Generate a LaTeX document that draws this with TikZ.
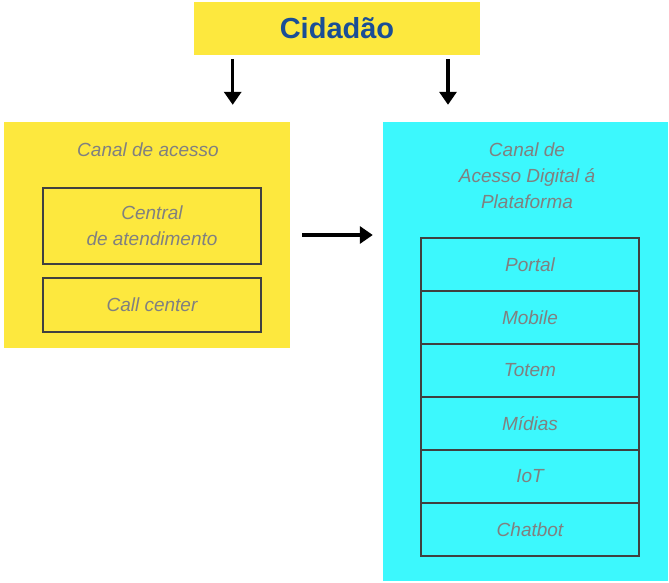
\documentclass[tikz,border=0pt]{standalone}
\usepackage{fontspec}
\setmainfont{Liberation Sans}
\usetikzlibrary{arrows.meta}
\definecolor{ylw}{RGB}{253,232,62}
\definecolor{cyn}{RGB}{60,248,253}
\definecolor{navy}{RGB}{26,78,150}
\definecolor{txt}{RGB}{128,128,128}
\tikzset{
  panel/.style={inner sep=0pt, draw=none},
  item/.style={draw=black!75, line width=1.6pt, inner sep=0pt, minimum width=218pt, text=txt, align=center,
     font=\itshape\fontsize{19}{26}\selectfont},
  cell/.style={item, minimum height=53pt},
  ttl/.style={text=txt, align=center, inner sep=0pt, font=\itshape\fontsize{19}{26}\selectfont},
  arr/.style={line width=3.2pt, -{Triangle[length=13pt,width=17pt]}}
}
\begin{document}
\begin{tikzpicture}[x=1pt,y=-1pt]
\useasboundingbox (0,0) rectangle (669,582);
\node[panel, fill=ylw, minimum width=286pt, minimum height=53pt, text=navy,
      font=\bfseries\fontsize{29}{30}\selectfont] (cid) at (337,28.5) {Cidadão};
\node[panel, fill=ylw, minimum width=286pt, minimum height=226pt] (canal) at (147,235) {};
\node[panel, fill=cyn, minimum width=285pt, minimum height=459pt] (digital) at (525.5,351.5) {};
\node[ttl] (t1) at (148,150) {Canal de acesso};
\node[item, minimum height=76pt] (central) at (152,226) {Central\\de atendimento};
\node[item, minimum height=54pt] (call) at (152,305) {Call center};
\node[ttl] (t2) at (527,176) {Canal de\\Acesso Digital á\\Plataforma};
\node[cell] (portal) at (530,264.5) {Portal};
\node[cell] (mobile) at (530,317.5) {Mobile};
\node[cell] (totem) at (530,370.5) {Totem};
\node[cell] (midias) at (530,423.5) {Mídias};
\node[cell] (iot) at (530,476.5) {IoT};
\node[cell] (chat) at (530,529.5) {Chatbot};
\coordinate (xl) at (232.7,0);
\coordinate (xr) at (448,0);
\draw[arr, shorten <=4pt, shorten >=17pt] (cid.south -| xl) -- (canal.north -| xl);
\draw[arr, shorten <=4pt, shorten >=17pt] (cid.south -| xr) -- (digital.north -| xr);
\draw[arr, shorten <=12pt, shorten >=10pt] (canal.east) -- (canal.east -| digital.west);
\end{tikzpicture}
\end{document}
